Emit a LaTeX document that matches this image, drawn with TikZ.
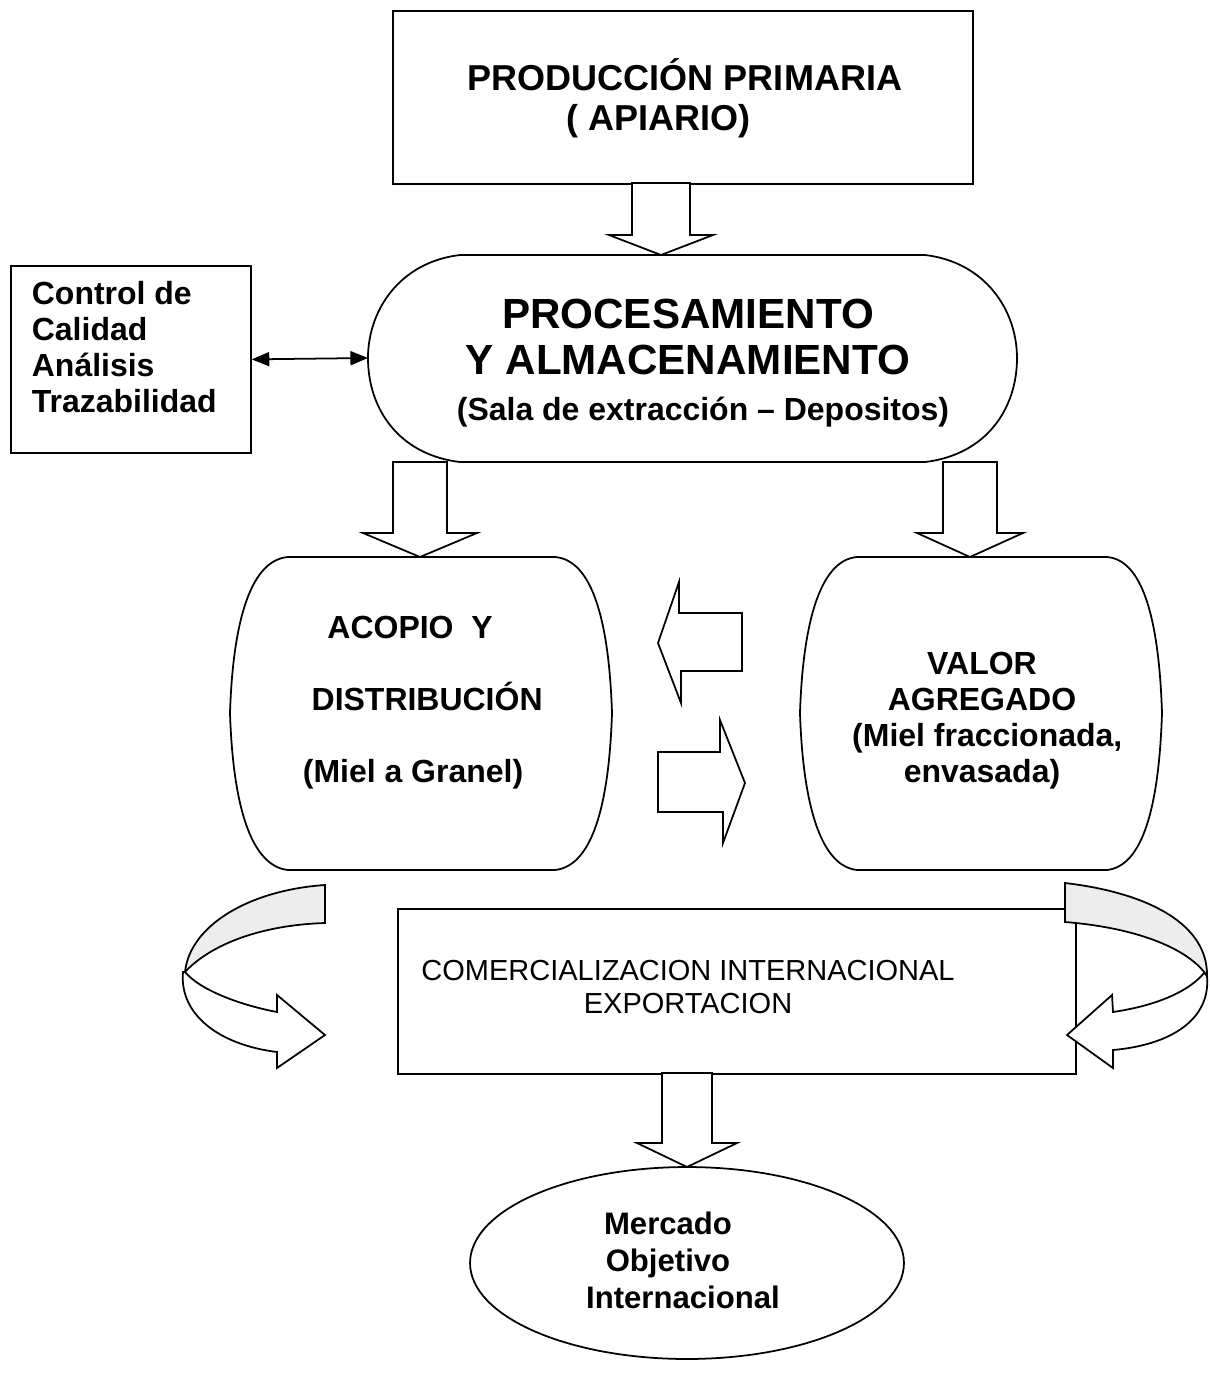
\documentclass[tikz,border=0pt]{standalone}
\usepackage{fontspec}
\setmainfont{Liberation Sans}
\usetikzlibrary{arrows.meta,shapes.geometric}
\newcommand{\blockdown}[6]{% x, ytop, ybase, ytip, shaft half, head half
  \draw[blockarrow] ({#1-#5},#2) -- ({#1-#5},#3) -- ({#1-#6},#3) -- (#1,#4)
    -- ({#1+#6},#3) -- ({#1+#5},#3) -- ({#1+#5},#2) -- cycle;}
\begin{document}
\begin{tikzpicture}[x=0.02cm,y=-0.02cm,line width=1pt,
  blockarrow/.style={draw=black,fill=white,line width=1pt,line join=miter},
  shapeline/.style={draw=black,fill=white,line width=1pt},
  txt/.style={inner sep=0pt,text=black},
  boldA/.style={font=\bfseries\fontsize{18.2pt}{20.5pt}\selectfont},
  ribbonback/.style={draw=black,fill=black!7,line width=1pt},
  ribbonfront/.style={draw=black,fill=white,line width=1pt,line join=miter},
  dbl/.style={{Triangle[length=10pt,width=8pt]}-{Triangle[length=10pt,width=8pt]},line width=1pt}]
\useasboundingbox (0,0) rectangle (1210,1374);
\fill[white] (0,0) rectangle (1210,1374);

% ---------- top box
\node[draw,inner sep=0pt,anchor=north west,minimum width=11.6cm,minimum height=3.46cm] (prod) at (392,10) {};
\node[txt,anchor=west,align=left,font=\bfseries\fontsize{20.5pt}{22.8pt}\selectfont] (prodtext) at (467,98)
  {PRODUCCIÓN PRIMARIA\\\hspace*{56pt}( APIARIO)};

% ---------- arrow prod -> proc
\blockdown{661}{183}{235}{255}{29}{52}

% ---------- procesamiento shape
\coordinate (procW) at (368,358);
\coordinate (procE) at (1017,358);
\path[shapeline] (460,255) -- (925,255) .. controls (985,262) and (1017,310) .. (procE)
  .. controls (1017,410) and (985,455) .. (925,462) -- (460,462)
  .. controls (400,455) and (368,410) .. (procW)
  .. controls (368,310) and (400,262) .. (460,255) -- cycle;
\node[txt,align=center,font=\bfseries\fontsize{24pt}{26.7pt}\selectfont] (proctitle) at (688,337)
  {PROCESAMIENTO\\Y ALMACENAMIENTO};
\node[txt,boldA] (procsub) at (703,412) {(Sala de extracción – Depositos)};

% ---------- control box
\node[draw,inner sep=0pt,anchor=north west,minimum width=4.8cm,minimum height=3.74cm] (ctrl) at (10,265) {};
\node[txt,anchor=north west,align=left,boldA] (ctrltext) at (31,280)
  {Control de\\Calidad\\Análisis\\Trazabilidad};
\draw[dbl] (ctrl.east) -- (procW);

% ---------- arrows proc -> barrels
\blockdown{420}{462}{533}{557}{27}{57}
\blockdown{970}{462}{533}{557}{27}{53}

% ---------- left barrel
\path[shapeline] (288,557) -- (555,557) .. controls (592,560) and (609,620) .. (612,713)
  .. controls (609,806) and (592,866) .. (555,870) -- (288,870)
  .. controls (251,866) and (233,806) .. (230,713)
  .. controls (233,620) and (251,560) .. (288,557) -- cycle;
\node[txt,anchor=west,align=left,font=\bfseries\fontsize{18.2pt}{41pt}\selectfont] (acopio) at (302,703)
  {\hspace*{14pt}ACOPIO\ \ Y\\\hspace*{5pt}DISTRIBUCIÓN\\(Miel a Granel)};

% ---------- right barrel
\path[shapeline] (857,557) -- (1107,557) .. controls (1143,560) and (1159,620) .. (1162,713)
  .. controls (1159,806) and (1143,866) .. (1107,870) -- (857,870)
  .. controls (821,866) and (803,806) .. (800,713)
  .. controls (803,620) and (821,560) .. (857,557) -- cycle;
\node[txt,align=center,boldA] (valor) at (982,721)
  {VALOR\\AGREGADO\\\hspace*{6pt}(Miel fraccionada,\\envasada)};

% ---------- middle block arrows
\draw[blockarrow] (742,613) -- (742,671) -- (681,671) -- (681,703) -- (658,643)
  -- (679,582) -- (679,613) -- cycle;
\draw[blockarrow] (658,752) -- (720,752) -- (720,720) -- (745,783) -- (723,843)
  -- (723,812) -- (658,812) -- cycle;

% ---------- export box
\node[draw,inner sep=0pt,anchor=north west,minimum width=13.56cm,minimum height=3.3cm] (exp) at (397,908) {};
\node[txt,align=center,font=\fontsize{16.5pt}{18.8pt}\selectfont] (exptext) at (688,987)
  {COMERCIALIZACION INTERNACIONAL\\EXPORTACION};

% ---------- curved arrows
% left
\path[ribbonback] (325,885) -- (325,923) .. controls (260,925) and (210,945) .. (185,972)
  .. controls (190,925) and (250,890) .. (325,885) -- cycle;
\path[ribbonfront] (183,972) .. controls (179,1015) and (220,1045) .. (277,1052)
  -- (277,1068) -- (325,1035) -- (277,995) -- (277,1012)
  .. controls (240,1005) and (200,990) .. (185,972) -- cycle;
% right
\path[ribbonback] (1065,883) .. controls (1150,893) and (1208,925) .. (1207,976)
  .. controls (1190,950) and (1140,928) .. (1065,922) -- cycle;
\path[ribbonfront] (1207,976) .. controls (1211,1020) and (1170,1045) .. (1113,1050)
  -- (1113,1068) -- (1067,1035) -- (1112,995) -- (1113,1012)
  .. controls (1160,1005) and (1190,990) .. (1204,973) -- cycle;

% ---------- arrow exp -> mercado
\blockdown{687}{1073}{1143}{1167}{25}{50}

% ---------- mercado ellipse
\node[draw,ellipse,inner sep=0pt,minimum width=8.68cm,minimum height=3.84cm] (merc) at (687,1263) {};
\node[txt,align=center,font=\bfseries\fontsize{17.7pt}{21pt}\selectfont] (merctext) at (668,1260)
  {Mercado\\Objetivo\\\hspace*{17pt}Internacional};
\end{tikzpicture}
\end{document}
